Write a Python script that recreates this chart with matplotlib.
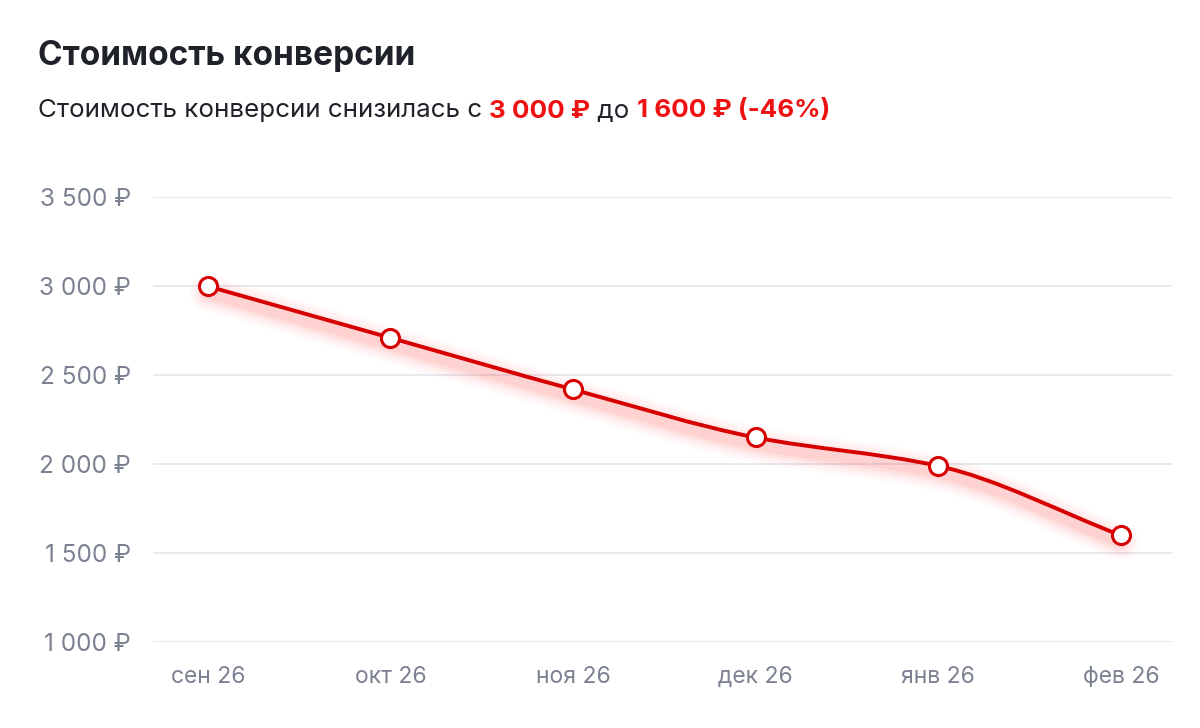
import numpy as np
import matplotlib
matplotlib.use("Agg")
import matplotlib.pyplot as plt
from matplotlib.path import Path
from matplotlib.patches import PathPatch
from matplotlib.transforms import ScaledTranslation

plt.rcParams['font.family'] = ['Inter', 'DejaVu Sans']

months = ["сен 26", "окт 26", "ноя 26", "дек 26", "янв 26", "фев 26"]
cost = [3000, 2710, 2420, 2150, 1990, 1600]
yticks = [1000, 1500, 2000, 2500, 3000, 3500]

RED = "#D60000"
TITLE_C = "#1F2329"
GRAY = "#7B8191"
GRID = "#E4E6EB"


def smooth_path(x, y):
    # monotone cubic (Fritsch-Carlson) as bezier segments
    x = np.asarray(x, float)
    y = np.asarray(y, float)
    h = np.diff(x)
    d = np.diff(y) / h
    m = np.zeros_like(y)
    m[0], m[-1] = d[0], d[-1]
    for i in range(1, len(y) - 1):
        if d[i - 1] * d[i] <= 0:
            m[i] = 0
        else:
            m[i] = 2 / (1 / d[i - 1] + 1 / d[i])
    verts = [(x[0], y[0])]
    codes = [Path.MOVETO]
    for i in range(len(x) - 1):
        verts += [(x[i] + h[i] / 3, y[i] + m[i] * h[i] / 3),
                  (x[i + 1] - h[i] / 3, y[i + 1] - m[i + 1] * h[i] / 3),
                  (x[i + 1], y[i + 1])]
        codes += [Path.CURVE4] * 3
    return Path(verts, codes)


fig = plt.figure(figsize=(12, 7.28), dpi=100)
ax = fig.add_axes([0.1275, 0.118, 0.8492, 0.611])

xs = np.arange(len(months))
path = smooth_path(xs, cost)

# glow under the line
shift = ax.transData + ScaledTranslation(0, -5 / 72, fig.dpi_scale_trans)
for lw, a in [(26, 0.025), (21, 0.03), (16, 0.04), (12, 0.05), (8, 0.06)]:
    ax.add_patch(PathPatch(path, fill=False, lw=lw, ec="#FF1A1A", alpha=a,
                           transform=shift, capstyle="round", joinstyle="round", zorder=2))

ax.add_patch(PathPatch(path, fill=False, lw=2.8, ec=RED, capstyle="round", zorder=3))
ax.plot(xs, cost, "o", ms=13, mfc="white", mec=RED, mew=2.2, zorder=4, clip_on=False)

ax.set_xlim(-0.3, 5.28)
ax.set_ylim(1000, 3500)
ax.set_yticks(yticks)
ax.set_yticklabels([f"{v:,}".replace(",", " ") + " ₽" for v in yticks])
ax.set_xticks(xs)
ax.set_xticklabels(months)
ax.grid(axis="y", color=GRID, lw=1.2)
ax.set_axisbelow(True)
for s in ax.spines.values():
    s.set_visible(False)
ax.tick_params(length=0, colors=GRAY)
ax.tick_params(axis="y", pad=16, labelsize=17.5)
ax.tick_params(axis="x", pad=17, labelsize=16.5)

fig.text(38 / 1200, 1 - 56 / 728, "Стоимость конверсии", fontsize=24,
         fontweight="bold", color=TITLE_C, va="center")

# subtitle with coloured parts
parts = [("Стоимость конверсии снизилась с ", TITLE_C, "normal"),
         ("3 000 ₽", "#EE1111", "bold"),
         (" до ", TITLE_C, "normal"),
         ("1 600 ₽ (-46%)", "#EE1111", "bold")]
renderer = fig.canvas.get_renderer()
x0 = 38
for txt, col, w in parts:
    t = fig.text(x0 / 1200, 1 - 111 / 728, txt, fontsize=18.7, color=col,
                 fontweight=w, va="center")
    bb = t.get_window_extent(renderer)
    x0 = bb.x1

fig.savefig("out.png", dpi=100, facecolor="white")
